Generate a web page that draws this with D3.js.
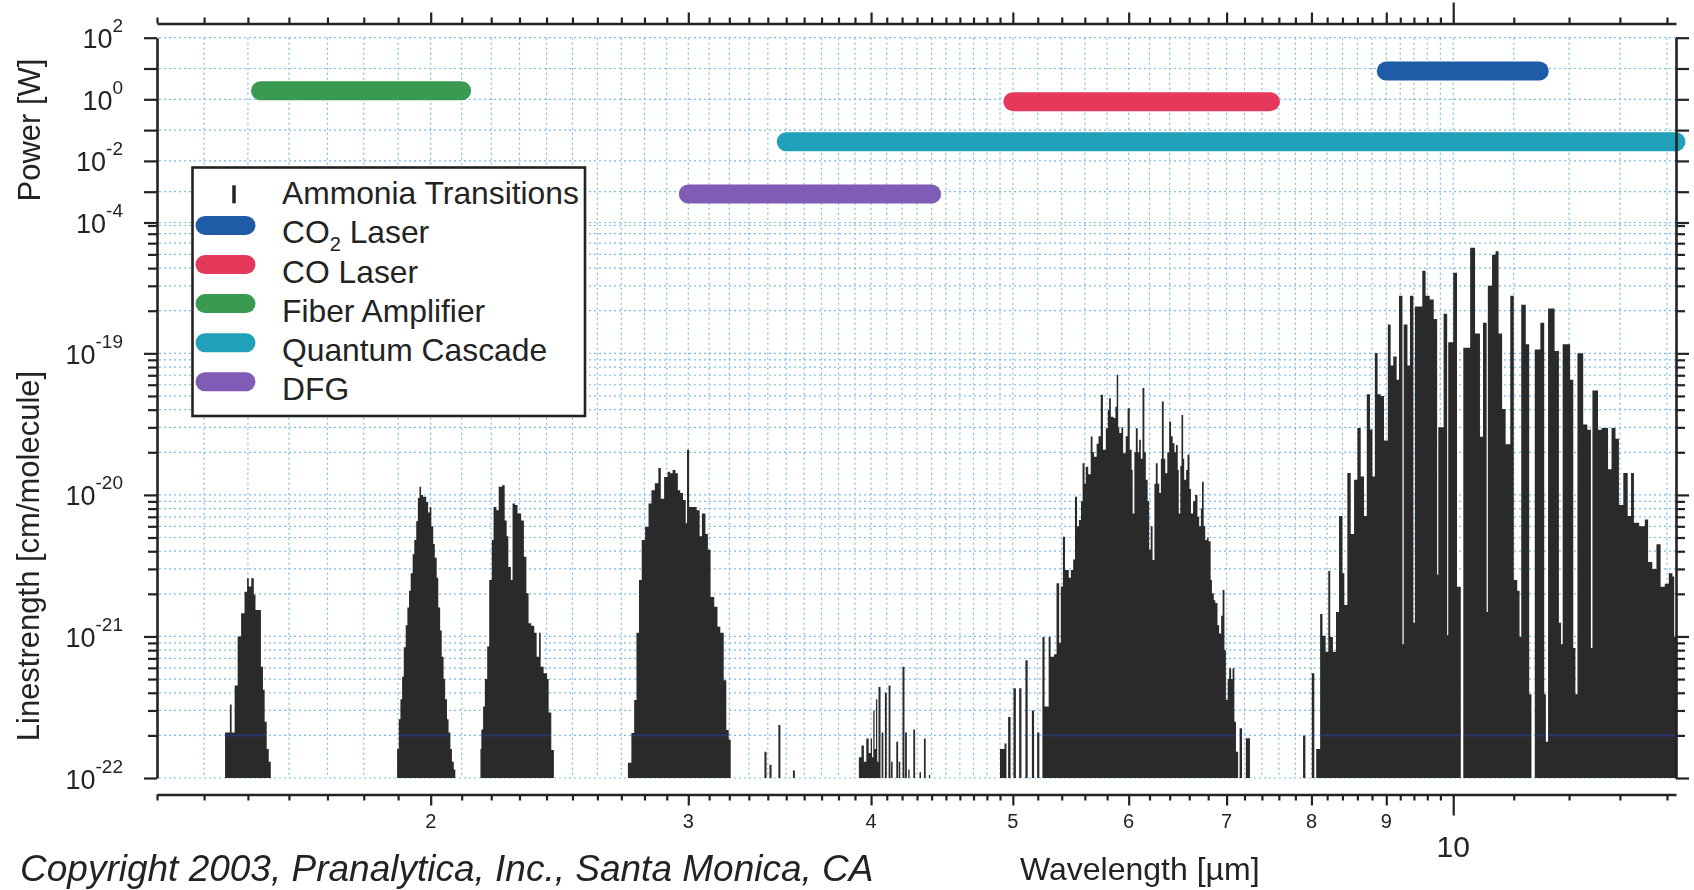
<!DOCTYPE html>
<html>
<head>
<meta charset="utf-8">
<title>Ammonia transitions and laser sources</title>
<script src="https://cdn.jsdelivr.net/npm/d3@7/dist/d3.min.js"></script>
<style>
  html, body { margin: 0; padding: 0; background: #ffffff; }
  svg { display: block; font-family: "Liberation Sans", Arial, Helvetica, sans-serif; }
</style>
</head>
<body>
<svg id="chart" width="1694" height="890"></svg>
<script>
// ---------------------------------------------------------------
// Laser sources: wavelength coverage (µm) and output power (W)
// ---------------------------------------------------------------
const sourceNames  = ["CO2 Laser", "CO Laser", "Fiber Amplifier", "Quantum Cascade", "DFG"];
const sourceFrom   = [9.0, 5.0, 1.53, 3.5, 3.0];
const sourceTo     = [11.45, 7.5, 2.1, 14.2, 4.4];
const sourcePower  = [8.3, 0.84, 1.9, 0.042, 8.4e-4];
const sourceColors = ["#1f5ba7", "#e4395a", "#3b9a52", "#21a0b9", "#7f5db6"];

// ---------------------------------------------------------------
// NH3 absorption bands, stored as step outlines:
// [wavelength µm, line strength in units of 1e-22 cm/molecule];
// each strength holds until the next listed wavelength.
// ---------------------------------------------------------------
const band15 = [[1.447,2.1],[1.458,3.3],[1.462,2.1],[1.469,4.5],[1.476,10],[1.484,14.6],[1.492,20.7],
  [1.498,25.8],[1.502,22.5],[1.508,25.8],[1.514,19.7],[1.518,15.4],[1.531,6.1],[1.536,4.2],[1.540,2.5],
  [1.545,1.6],[1.550,1.3],[1.555,1]];

const band20 = [[1.897,1.6],[1.902,2.6],[1.907,3.6],[1.912,5.2],[1.917,8.4],[1.923,12],[1.928,16],
  [1.933,21],[1.938,28],[1.944,38],[1.949,48],[1.955,65],[1.960,95],[1.965,114],[1.970,100],[1.976,97],
  [1.981,97],[1.986,89],[1.992,75],[1.997,82],[2.002,60],[2.008,45],[2.013,36],[2.019,26],[2.024,16],
  [2.030,11],[2.035,7.2],[2.041,5],[2.046,3.6],[2.052,2.6],[2.057,2.1],[2.063,1.6],[2.068,1.3],
  [2.074,1.15],[2.079,1]];

const band23 = [[2.163,1.6],[2.166,2.2],[2.172,3.2],[2.178,5],[2.186,8.5],[2.193,25],[2.202,48],
  [2.208,82],[2.218,78],[2.226,114],[2.238,117],[2.247,66],[2.254,51],[2.260,31],[2.269,25],[2.275,87],
  [2.284,85],[2.293,74],[2.306,66],[2.316,36.5],[2.325,20.2],[2.333,12.4],[2.343,11.9],[2.354,10.6],
  [2.363,7.2],[2.372,10.6],[2.378,6.1],[2.389,5.5],[2.402,5],[2.408,2.9],[2.418,1.58],[2.428,1]];

const band30 = [[2.728,1.28],[2.743,2.08],[2.755,3.56],[2.765,10.6],[2.776,25],[2.788,48],[2.803,59.5],
  [2.818,87],[2.831,108],[2.846,121],[2.862,155],[2.873,94],[2.888,134],[2.904,146],[2.915,142],
  [2.927,150],[2.940,142],[2.951,108],[2.962,103],[2.975,92],[2.988,63],[2.994,208],[3.004,82],
  [3.027,82],[3.040,78],[3.054,51],[3.065,74],[3.082,53],[3.094,41],[3.107,19],[3.125,16.2],
  [3.141,11.7],[3.155,10.6],[3.172,4.9],[3.185,2.18],[3.197,1.86],[3.207,1]];

const band34 = [[3.382,1.53],[3.393,1],[3.409,1.24],[3.420,1],[3.457,2.37],[3.468,1],[3.537,1.13],[3.548,1]];

const band42 = [[3.924,1.4],[3.940,1.7],[3.955,1.3],[3.970,1.9],[3.985,1.5],[3.998,1.9],[4.006,1.4],
  [4.014,3.0],[4.022,1.6],[4.031,3.6],[4.039,1.3],[4.047,4.4],[4.060,1],[4.067,2.1],[4.078,1],
  [4.088,4.0],[4.100,1],[4.112,4.5],[4.124,1],[4.128,1.3],[4.138,1],[4.162,1.8],[4.174,1],[4.178,1.3],
  [4.188,1],[4.203,6.1],[4.216,1],[4.220,2.1],[4.232,1],[4.241,1.15],[4.250,1],[4.275,2.2],[4.287,1],
  [4.317,1.1],[4.327,1],[4.347,1.9],[4.359,1],[4.381,1.05],[4.390,1]];

const band60 = [[4.900,1.6],[4.935,1.75],[4.950,1],[4.963,2.7],[4.982,1],[5.005,4.3],[5.024,1],
  [5.050,4.3],[5.068,1],[5.100,6.8],[5.118,1],[5.152,3.0],[5.170,1],[5.195,2.1],[5.213,1],
  [5.238,9.9],[5.256,3.2],[5.290,9.9],[5.306,7.2],[5.335,7.5],[5.356,23.8],[5.378,9],[5.392,22.5],
  [5.410,50.7],[5.428,29.5],[5.460,26],[5.478,29.5],[5.498,35],[5.514,97],[5.532,60],[5.548,66.5],
  [5.566,90],[5.580,167],[5.597,120],[5.608,158],[5.630,140],[5.652,258],[5.668,200],[5.682,186],
  [5.705,230],[5.722,260],[5.742,509],[5.762,208],[5.788,296],[5.806,400],[5.818,482],[5.834,357],
  [5.858,350],[5.876,420],[5.888,705],[5.902,300],[5.912,274],[5.932,300],[5.948,197],[5.972,260],
  [5.990,410],[6.010,208],[6.028,150],[6.038,74],[6.054,200],[6.068,296],[6.086,200],[6.100,245],
  [6.116,180],[6.132,568],[6.150,200],[6.164,128],[6.182,90],[6.196,40.9],[6.212,60],[6.230,34.7],
  [6.248,120],[6.262,167],[6.280,120],[6.296,103],[6.312,180],[6.322,456],[6.340,180],[6.356,142],
  [6.376,200],[6.395,330],[6.414,260],[6.430,232],[6.448,200],[6.463,225],[6.482,150],[6.492,74],
  [6.508,160],[6.520,367],[6.537,180],[6.548,128],[6.568,150],[6.582,192],[6.602,110],[6.618,74],
  [6.640,90],[6.662,100],[6.686,70],[6.704,59.7],[6.722,80],[6.734,124],[6.752,60],[6.768,48],
  [6.788,50],[6.804,47],[6.826,25],[6.840,20.2],[6.860,18],[6.876,17.2],[6.900,12],[6.918,10.5],
  [6.940,14],[6.956,21.3],[6.976,8],[6.992,3.56],[7.012,5],[7.028,5.96],[7.050,5],[7.066,5.96],
  [7.086,2.5],[7.104,1.53],[7.128,1],[7.145,2.25],[7.172,1],[7.215,1.91],[7.262,1]];

const band100 = [[7.895,2.0],[7.924,1],[8.005,5.5],[8.036,1],[8.060,1.6],[8.110,14.4],[8.140,10.1],
  [8.180,7.8],[8.215,29],[8.240,9.9],[8.275,7.8],[8.315,14.9],[8.355,71],[8.400,28],[8.425,16.7],
  [8.465,143],[8.510,53],[8.555,128],[8.600,297],[8.645,135],[8.690,71],[8.728,515],[8.772,290],
  [8.806,135],[8.840,1005],[8.878,515],[8.922,500],[8.968,242],[9.022,1600],[9.062,820],[9.100,948],
  [9.148,650],[9.182,2550],[9.232,8.8],[9.250,1600],[9.305,820],[9.342,2550],[9.392,12.5],
  [9.415,2140],[9.525,3830],[9.574,2550],[9.636,2400],[9.698,1745],[9.750,27.3],[9.768,300],
  [9.850,1905],[9.905,10.2],[9.922,1200],[10.00,3714],[10.06,22.4],[10.12,1],[10.16,1096],
  [10.27,5575],[10.35,1382],[10.43,257],[10.48,1645],[10.54,14.9],[10.56,3000],[10.63,4966],
  [10.69,5270],[10.74,1382],[10.80,405],[10.86,228],[10.94,2550],[11.00,25],[11.06,21],[11.10,9.9],
  [11.13,2203],[11.21,1161],[11.27,3.9],[11.31,1],[11.37,1066],[11.47,1645],[11.54,3.9],[11.57,1.8],
  [11.61,2075],[11.73,1037],[11.81,12.5],[11.85,8.8],[11.88,1161],[12.02,650],[12.08,8.3],[12.12,3.9],
  [12.16,1000],[12.27,314],[12.35,288],[12.42,8.3],[12.45,546],[12.56,288],[12.63,297],[12.71,297],
  [12.76,152],[12.83,297],[12.91,249],[12.98,85],[13.07,143],[13.16,71],[13.23,143],[13.29,63.5],
  [13.40,60],[13.52,67],[13.59,33.6],[13.68,30],[13.77,44.8],[13.86,22.4],[13.95,23.6],[14.04,28],
  [14.12,26.5],[14.16,9.9],[14.20,1]];

const ammoniaBands = [band15, band20, band23, band30, band34, band42, band60, band100];
const strengthUnit = 1e-22;

// ---------------------------------------------------------------
// Ticks and labels
// ---------------------------------------------------------------
const powerTicks       = [1e2, 1e1, 1e0, 1e-1, 1e-2, 1e-3, 1e-4];
const powerLabelExp    = [2, 0, -2, -4];
const strengthDecades  = [1e-22, 1e-21, 1e-20, 1e-19];
const strengthLabelExp = [-19, -20, -21, -22];
const wlLabels         = [2, 3, 4, 5, 6, 7, 8, 9];
const wlDecade         = 10;
const wlFine = [...d3.range(13, 50).map(v => v / 10), ...d3.range(50, 100, 2).map(v => v / 10), 11, 12, 13, 14]
  .filter(v => !wlLabels.includes(v));
const strengthMinor = [];
[-22, -21, -20, -19].forEach(e => d3.range(2, 10).forEach(k => {
  const v = k * Math.pow(10, e);
  if (v < 8.4e-19) strengthMinor.push(v);
}));

// ---------------------------------------------------------------
// Scales
// ---------------------------------------------------------------
const svg = d3.select("#chart");
const ink = "#232323";
const xL = 157, xR = 1676;

const x     = d3.scaleLog().domain([1.3, 14.2]).range([xL, xR]);
const yPow  = d3.scaleLog().domain([1e-4, 1e2]).range([222.5, 37.7]);
const yLine = d3.scaleLog().domain([1e-22, 8.4e-19]).range([778, 222.5]);

svg.append("rect").attr("width", 1694).attr("height", 890).attr("fill", "#ffffff");

// ---------------------------------------------------------------
// Grid
// ---------------------------------------------------------------
const grid = svg.append("g")
  .attr("stroke", "#7dbbe8").attr("stroke-width", 1.2)
  .attr("stroke-dasharray", "2 3").attr("fill", "none");

grid.selectAll("line.gv").data([...wlFine, ...wlLabels, wlDecade].filter(v => v > 1.3)).join("line")
  .attr("class", "gv")
  .attr("x1", d => x(d)).attr("x2", d => x(d))
  .attr("y1", yPow(1e2)).attr("y2", yLine(1e-22));

grid.selectAll("line.gp").data(powerTicks).join("line")
  .attr("class", "gp")
  .attr("x1", xL + 2).attr("x2", xR)
  .attr("y1", d => yPow(d)).attr("y2", d => yPow(d));

grid.selectAll("line.gs").data([...strengthDecades, ...strengthMinor]).join("line")
  .attr("class", "gs")
  .attr("x1", xL + 2).attr("x2", xR)
  .attr("y1", d => yLine(d)).attr("y2", d => yLine(d));

// ---------------------------------------------------------------
// Ammonia line strengths
// ---------------------------------------------------------------
const bandArea = d3.area()
  .curve(d3.curveStepAfter)
  .x(d => x(d[0]))
  .y0(yLine(1e-22))
  .y1(d => yLine(Math.max(d[1], 1) * strengthUnit));

svg.append("g").selectAll("path").data(ammoniaBands).join("path")
  .attr("d", bandArea)
  .attr("fill", "#2a2a2a");

// 2e-22 grid level shows through the dark bands as a navy rule
svg.append("line")
  .attr("x1", xL).attr("x2", xR)
  .attr("y1", yLine(2e-22)).attr("y2", yLine(2e-22))
  .attr("stroke", "#26356e").attr("stroke-width", 2)
  .style("mix-blend-mode", "lighten");

// ---------------------------------------------------------------
// Laser source ranges
// ---------------------------------------------------------------
svg.append("g").selectAll("line").data(d3.range(sourceNames.length)).join("line")
  .attr("x1", i => x(sourceFrom[i])).attr("x2", i => x(sourceTo[i]))
  .attr("y1", i => yPow(sourcePower[i])).attr("y2", i => yPow(sourcePower[i]))
  .attr("stroke", i => sourceColors[i])
  .attr("stroke-width", 19)
  .attr("stroke-linecap", "round");

// ---------------------------------------------------------------
// Legend
// ---------------------------------------------------------------
const lg = svg.append("g");
lg.append("rect")
  .attr("x", 192.5).attr("y", 167.5).attr("width", 392.5).attr("height", 248.5)
  .attr("fill", "#ffffff").attr("stroke", ink).attr("stroke-width", 2.6);

const legendNames = ["Ammonia Transitions", ...sourceNames];
const rowBase = i => 204.3 + i * 39.1;

lg.append("line")
  .attr("x1", 234).attr("x2", 234)
  .attr("y1", rowBase(0) - 19).attr("y2", rowBase(0) - 1)
  .attr("stroke", ink).attr("stroke-width", 3.5);

sourceNames.forEach((n, i) => {
  lg.append("line")
    .attr("x1", 205).attr("x2", 246)
    .attr("y1", rowBase(i + 1) - 18).attr("y2", rowBase(i + 1) - 18)
    .attr("stroke", sourceColors[i]).attr("stroke-width", 19)
    .attr("stroke-linecap", "round");
});

legendNames.forEach((n, i) => {
  const t = lg.append("text")
    .attr("x", 282).attr("y", rowBase(i))
    .attr("font-size", 31.8).attr("fill", ink);
  if (n.startsWith("CO2")) {
    t.append("tspan").text("CO");
    t.append("tspan").attr("font-size", 20).attr("dy", 8).text("2");
    t.append("tspan").attr("dy", -8).text(n.slice(3));
  } else {
    t.text(n);
  }
});

// ---------------------------------------------------------------
// Axes
// ---------------------------------------------------------------
function styleAxis(g, keepDomain) {
  g.selectAll("path.domain")
    .attr("stroke", keepDomain ? ink : "none").attr("stroke-width", 2.6);
  g.selectAll(".tick line").attr("stroke", ink).attr("stroke-width", 2.2);
  g.selectAll(".tick text").remove();
}

// left / right: power (upper) and line strength (lower)
[[d3.axisLeft, xL], [d3.axisRight, xR]].forEach(([maker, xp]) => {
  svg.append("g").attr("transform", `translate(${xp},0)`)
    .call(maker(yPow).tickValues(powerTicks).tickSize(13).tickSizeOuter(0).tickFormat(""))
    .call(g => styleAxis(g, true));
  svg.append("g").attr("transform", `translate(${xp},0)`)
    .call(maker(yLine).tickValues(strengthDecades).tickSize(13).tickSizeOuter(0).tickFormat(""))
    .call(g => styleAxis(g, true));
  svg.append("g").attr("transform", `translate(${xp},0)`)
    .call(maker(yLine).tickValues(strengthMinor).tickSize(9).tickSizeOuter(0).tickFormat(""))
    .call(g => styleAxis(g, false));
});

// top / bottom: wavelength
[[d3.axisTop, 23.5], [d3.axisBottom, 794.5]].forEach(([maker, yp]) => {
  svg.append("g").attr("transform", `translate(0,${yp})`)
    .call(maker(x).tickValues(wlFine).tickSize(6).tickSizeOuter(0).tickFormat(""))
    .call(g => styleAxis(g, true));
  svg.append("g").attr("transform", `translate(0,${yp})`)
    .call(maker(x).tickValues(wlLabels).tickSize(11).tickSizeOuter(0).tickFormat(""))
    .call(g => styleAxis(g, false));
  svg.append("g").attr("transform", `translate(0,${yp})`)
    .call(maker(x).tickValues([wlDecade]).tickSize(21).tickSizeOuter(0).tickFormat(""))
    .call(g => styleAxis(g, false));
});

// ---------------------------------------------------------------
// Tick labels
// ---------------------------------------------------------------
function decadeLabel(y, exp) {
  const t = svg.append("text")
    .attr("x", 123).attr("y", y + 10.5)
    .attr("text-anchor", "end").attr("fill", ink);
  t.append("tspan").attr("font-size", 27).text("10");
  t.append("tspan").attr("font-size", 19).attr("dy", -16).text(String(exp));
}
powerLabelExp.forEach(e => decadeLabel(yPow(Math.pow(10, e)), e));
strengthLabelExp.forEach(e => decadeLabel(yLine(Math.pow(10, e)), e));

svg.append("g").selectAll("text").data(wlLabels).join("text")
  .attr("x", d => x(d)).attr("y", 828)
  .attr("text-anchor", "middle").attr("font-size", 20).attr("fill", ink)
  .text(d => d);

svg.append("text")
  .attr("x", x(wlDecade)).attr("y", 857)
  .attr("text-anchor", "middle").attr("font-size", 30).attr("fill", ink)
  .text(wlDecade);

// ---------------------------------------------------------------
// Titles
// ---------------------------------------------------------------
svg.append("text")
  .attr("transform", "translate(40,130) rotate(-90)")
  .attr("text-anchor", "middle").attr("font-size", 31).attr("fill", ink)
  .text("Power [W]");

svg.append("text")
  .attr("transform", "translate(39,556) rotate(-90)")
  .attr("text-anchor", "middle").attr("font-size", 31).attr("fill", ink)
  .text("Linestrength [cm/molecule]");

svg.append("text")
  .attr("x", 1020).attr("y", 880)
  .attr("font-size", 32).attr("fill", ink)
  .text("Wavelength [µm]");

svg.append("text")
  .attr("x", 20).attr("y", 881)
  .attr("font-size", 37).attr("font-style", "italic").attr("fill", ink)
  .text("Copyright 2003, Pranalytica, Inc., Santa Monica, CA");
</script>
</body>
</html>
